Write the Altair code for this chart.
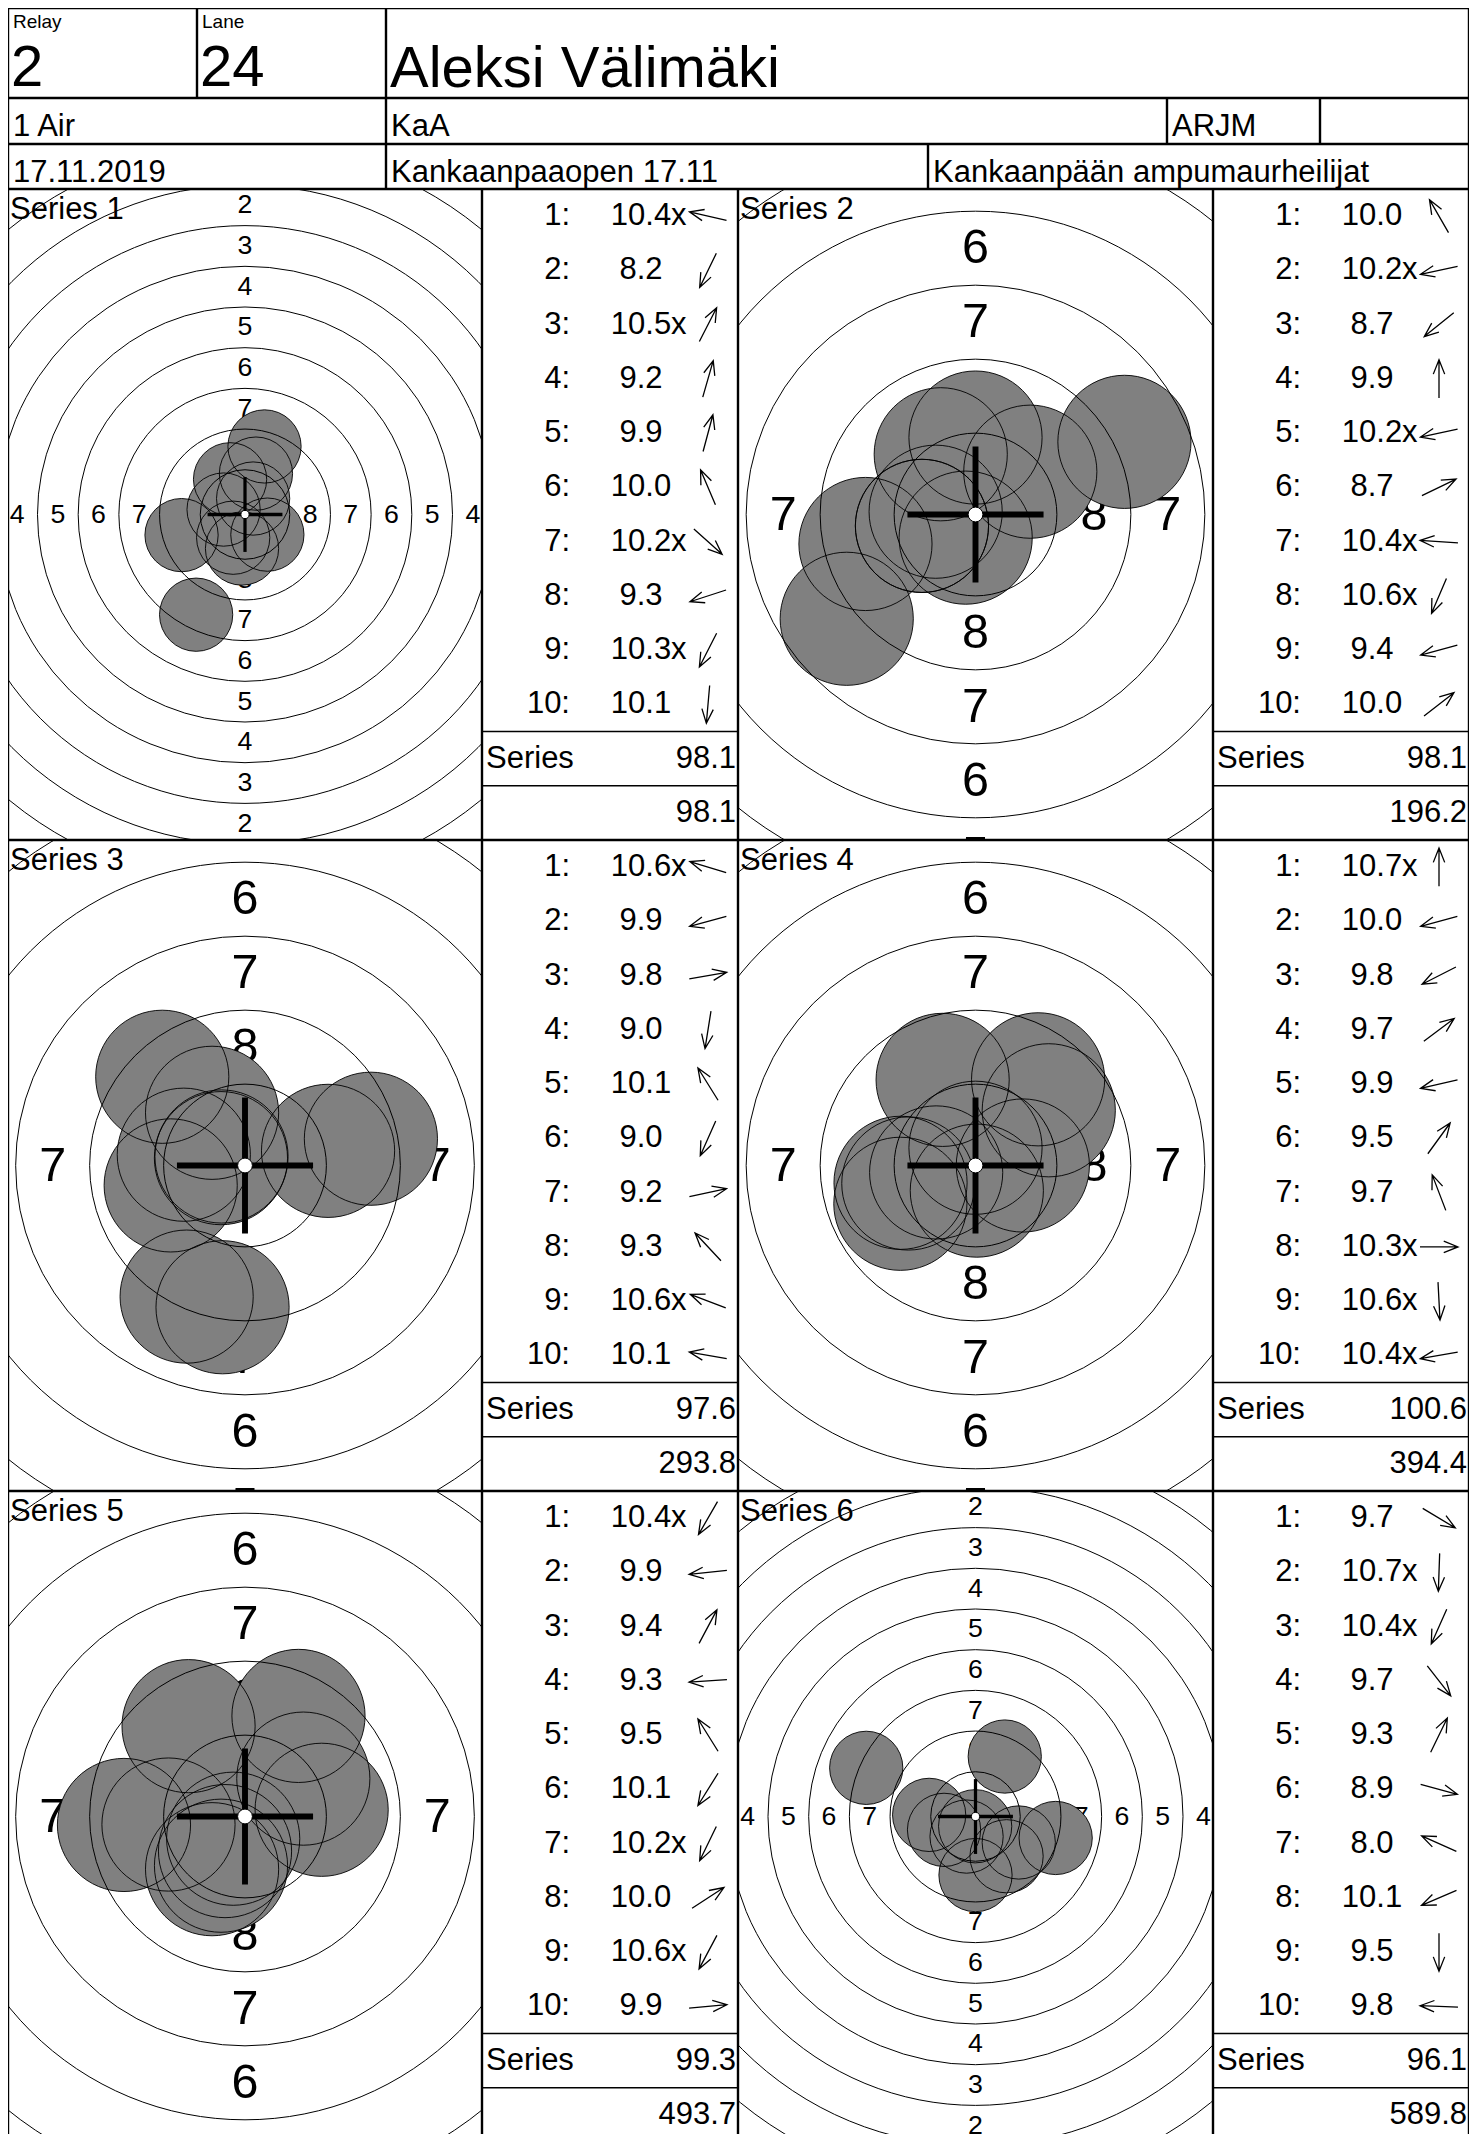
import math
import altair as alt
import pandas as pd

# ---------------- header values ----------------
relay_label, relay_value = "Relay", "2"
lane_label, lane_value = "Lane", "24"
shooter = "Aleksi Välimäki"
event = "1 Air"
shooter_class = "KaA"
club_code = "ARJM"
date = "17.11.2019"
competition = "Kankaanpaaopen 17.11"
club = "Kankaanpään ampumaurheilijat"

# ---------------- series values ----------------
series_labels = ["Series 1", "Series 2", "Series 3", "Series 4", "Series 5", "Series 6"]
shot_scores = [
    [10.4, 8.2, 10.5, 9.2, 9.9, 10.0, 10.2, 9.3, 10.3, 10.1],
    [10.0, 10.2, 8.7, 9.9, 10.2, 8.7, 10.4, 10.6, 9.4, 10.0],
    [10.6, 9.9, 9.8, 9.0, 10.1, 9.0, 9.2, 9.3, 10.6, 10.1],
    [10.7, 10.0, 9.8, 9.7, 9.9, 9.5, 9.7, 10.3, 10.6, 10.4],
    [10.4, 9.9, 9.4, 9.3, 9.5, 10.1, 10.2, 10.0, 10.6, 9.9],
    [9.7, 10.7, 10.4, 9.7, 9.3, 8.9, 8.0, 10.1, 9.5, 9.8],
]
inner_ten = [
    [1, 0, 1, 0, 0, 0, 1, 0, 1, 0],
    [0, 1, 0, 0, 1, 0, 1, 1, 0, 0],
    [1, 0, 0, 0, 0, 0, 0, 0, 1, 0],
    [1, 0, 0, 0, 0, 0, 0, 1, 1, 1],
    [1, 0, 0, 0, 0, 0, 1, 0, 1, 0],
    [0, 1, 1, 0, 0, 0, 0, 0, 0, 0],
]
# direction of each shot from the centre, degrees clockwise from 12 o'clock
shot_direction_deg = [
    [283, 206, 27, 16, 15, 337, 132, 252, 207, 185],
    [330, 258, 231, 0, 258, 64, 274, 203, 255, 52],
    [287, 255, 80, 189, 328, 204, 78, 317, 291, 280],
    [0, 255, 243, 53, 257, 36, 339, 90, 177, 260],
    [210, 264, 28, 266, 328, 212, 206, 57, 208, 85],
    [121, 182, 204, 142, 26, 105, 294, 247, 180, 272],
]
series_totals = [98.1, 98.1, 97.6, 100.6, 99.3, 96.1]
running_totals = [98.1, 196.2, 293.8, 394.4, 493.7, 589.8]
view_half_height_mm = [20, 11, 11, 11, 11, 20]

# ---------------- target geometry (10 m air rifle) ----------------
ring_values = [10, 9, 8, 7, 6, 5, 4, 3, 2, 1]
ring_radius_mm = [0.25, 2.75, 5.25, 7.75, 10.25, 12.75, 15.25, 17.75, 20.25, 22.75]
ring_label_values = [8, 7, 6, 5, 4, 3, 2, 1]
pellet_diameter_mm = 4.5
cross_half_mm = 2.3

FONT = "Liberation Sans"
LINE = 1.5
BORDER = 2.4
PANEL_H = 651
TARGET_W = [474, 475]
SCORE_W = 256
MID = 31
ARROW = "M0,1L0,-1M-0.3,-0.25L0,-1L0.3,-0.25"


def text_layer(t, x, y, size, align="left", baseline="alphabetic"):
    return alt.Chart(pd.DataFrame({"t": [t]})).mark_text(
        align=align, baseline=baseline, fontSize=size, font=FONT, color="black", clip=True
    ).encode(x=alt.value(x), y=alt.value(y), text="t:N")


def border():
    # cell frame, clipped to the cell so neighbouring halves form one line
    return alt.Chart(pd.DataFrame({"b": [1]})).mark_rect(
        filled=False, color="black", strokeWidth=BORDER, clip=True
    ).encode(x=alt.value(0), x2=alt.value("width"), y=alt.value(0), y2=alt.value("height"))


def cell(w, h, *layers):
    return alt.layer(*layers, border()).properties(width=w, height=h)


def radius_of(v):
    return ring_radius_mm[ring_values.index(v)]


def target_chart(i, w):
    hy = view_half_height_mm[i]
    hx = hy * w / PANEL_H
    ppm = PANEL_H / (2 * hy)
    xsc = alt.Scale(domain=[-hx, hx], nice=False, zero=False)
    ysc = alt.Scale(domain=[-hy, hy], nice=False, zero=False)
    X = alt.X("x:Q", scale=xsc, axis=None)
    Y = alt.Y("y:Q", scale=ysc, axis=None)

    # ring numbers
    lab_rows = []
    for v in ring_label_values:
        r = (radius_of(v) + radius_of(v + 1)) / 2
        for (px, py) in [(0, r), (0, -r), (-r, 0), (r, 0)]:
            lab_rows.append({"x": px, "y": py, "t": str(v)})
    labels = alt.Chart(pd.DataFrame(lab_rows)).mark_text(
        align="center", baseline="middle", fontSize=1.64 * ppm, font=FONT,
        color="black", clip=True
    ).encode(x=X, y=Y, text="t:N")

    # shots
    rows = []
    for s, a in zip(shot_scores[i], shot_direction_deg[i]):
        d = (10.9 - s) * 2.5 + 0.1
        rows.append({"x": d * math.sin(math.radians(a)), "y": d * math.cos(math.radians(a))})
    shots = pd.DataFrame(rows)
    shot_size = (pellet_diameter_mm * ppm) ** 2
    shot_fill = alt.Chart(shots).mark_point(
        shape="circle", filled=True, color="#808080", size=shot_size, opacity=1,
        strokeWidth=0, clip=True
    ).encode(x=X, y=Y)
    shot_line = alt.Chart(shots).mark_point(
        shape="circle", filled=False, color="black", size=shot_size, opacity=1,
        strokeWidth=0.9, clip=True
    ).encode(x=X, y=Y)

    # rings
    rings_df = pd.DataFrame({
        "x": [0.0] * len(ring_radius_mm),
        "y": [0.0] * len(ring_radius_mm),
        "s": [(2 * r * ppm) ** 2 for r in ring_radius_mm],
    })
    rings = alt.Chart(rings_df[rings_df.index > 0]).mark_point(
        shape="circle", filled=False, color="black", strokeWidth=1, opacity=1, clip=True
    ).encode(x=X, y=Y, size=alt.Size("s:Q", scale=None))

    # cross
    sw = 0.2 * ppm
    ch = alt.Chart(pd.DataFrame({"x": [-cross_half_mm], "x2": [cross_half_mm], "y": [0.0]})).mark_rule(
        color="black", strokeWidth=sw, strokeCap="butt", clip=True
    ).encode(x=X, x2="x2:Q", y=Y)
    cv = alt.Chart(pd.DataFrame({"x": [0.0], "y": [-cross_half_mm], "y2": [cross_half_mm]})).mark_rule(
        color="black", strokeWidth=sw, strokeCap="butt", clip=True
    ).encode(x=X, y=Y, y2="y2:Q")

    # ten ring (white dot)
    ten = alt.Chart(rings_df[rings_df.index == 0]).mark_point(
        shape="circle", filled=True, fill="white", stroke="black", strokeWidth=1,
        opacity=1, clip=True
    ).encode(x=X, y=Y, size=alt.Size("s:Q", scale=None))

    title = text_layer(series_labels[i], 2, 30, MID)
    return alt.layer(labels, shot_fill, shot_line, rings, ch, cv, ten, title, border()).properties(
        width=w, height=PANEL_H
    )


def score_chart(i):
    n = list(range(1, 11))
    df = pd.DataFrame({
        "row": n,
        "lab": [f"{k}:" for k in n],
        "val": [f"{s:.1f}" for s in shot_scores[i]],
        "xm": ["x" if f else "" for f in inner_ten[i]],
        "ang": shot_direction_deg[i],
    })
    Y = alt.Y("row:Q", scale=alt.Scale(domain=[0.5, 12.5], reverse=True, nice=False, zero=False), axis=None)
    base = alt.Chart(df).encode(y=Y)
    txt = dict(baseline="middle", fontSize=MID, font=FONT, color="black", clip=True)
    labs = base.mark_text(align="right", **txt).encode(x=alt.value(88), text="lab:N")
    vals = base.mark_text(align="center", **txt).encode(x=alt.value(159), text="val:N")
    xs = base.mark_text(align="left", **txt).encode(x=alt.value(189), text="xm:N")
    arrows = base.mark_point(
        shape=ARROW, size=38 ** 2, filled=False, color="black", strokeWidth=1.3, opacity=1,
        clip=True
    ).encode(x=alt.value(226), angle=alt.Angle("ang:Q", scale=None))

    tot = pd.DataFrame({
        "row": [11, 12],
        "left": ["Series", ""],
        "right": [f"{series_totals[i]:.1f}", f"{running_totals[i]:.1f}"],
    })
    tbase = alt.Chart(tot).encode(y=Y)
    left = tbase.mark_text(align="left", **txt).encode(x=alt.value(4), text="left:N")
    right = tbase.mark_text(align="right", **txt).encode(x=alt.value(SCORE_W - 2), text="right:N")
    rules = alt.Chart(pd.DataFrame({"row": [10.5, 11.5]})).mark_rule(
        color="black", strokeWidth=LINE, clip=True
    ).encode(y=Y)
    return alt.layer(labs, vals, xs, arrows, left, right, rules, border()).properties(
        width=SCORE_W, height=PANEL_H
    )


def hrow(*charts):
    return alt.hconcat(*charts, spacing=0, bounds="flush")


row1 = hrow(
    cell(189, 90, text_layer(relay_label, 5, 20, 19), text_layer(relay_value, 3, 78, 58)),
    cell(189, 90, text_layer(lane_label, 5, 20, 19), text_layer(lane_value, 3, 78, 58)),
    cell(1083, 90, text_layer(shooter, 4, 79, 58)),
)
row2 = hrow(
    cell(378, 46, text_layer(event, 5, 38, MID)),
    cell(781, 46, text_layer(shooter_class, 5, 38, MID)),
    cell(153, 46, text_layer(club_code, 5, 38, MID)),
    cell(149, 46, text_layer("", 5, 38, MID)),
)
row3 = hrow(
    cell(378, 45, text_layer(date, 5, 38, MID)),
    cell(542, 45, text_layer(competition, 5, 38, MID)),
    cell(541, 45, text_layer(club, 5, 38, MID)),
)

panel_rows = []
for r in range(3):
    a, b = 2 * r, 2 * r + 1
    panel_rows.append(hrow(
        target_chart(a, TARGET_W[0]), score_chart(a),
        target_chart(b, TARGET_W[1]), score_chart(b),
    ))

chart = alt.vconcat(row1, row2, row3, *panel_rows, spacing=0).properties(
    padding=0
).configure(font=FONT).configure_view(strokeWidth=0)

chart.save("out.html", embed_options={"renderer": "svg", "actions": False})
